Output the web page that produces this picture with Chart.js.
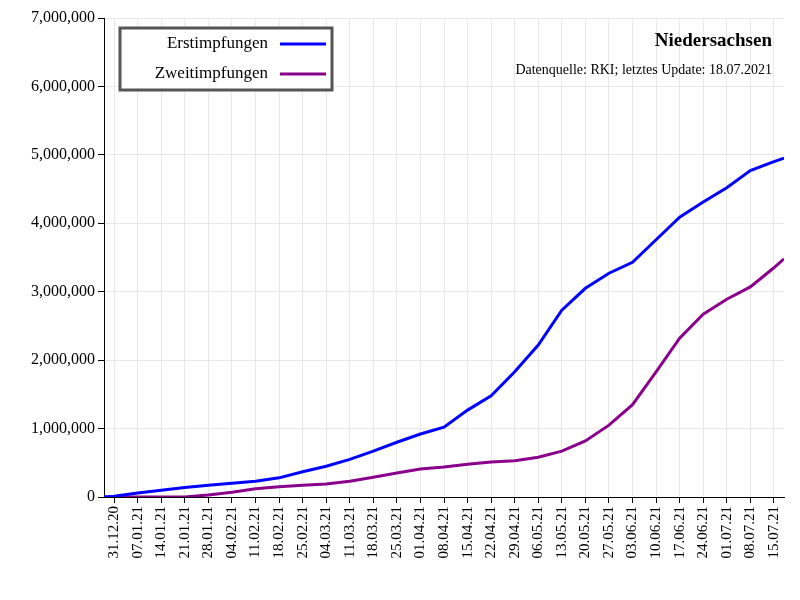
<!DOCTYPE html>
<html><head><meta charset="utf-8">
<script src="https://cdn.jsdelivr.net/npm/chart.js@4"></script>
<style>body{margin:0;background:#fff}</style>
</head><body><canvas id="c" width="800" height="600"></canvas>
<script>
// day index 0 = 28.12.2020
const days = [0,3,10,17,24,31,38,45,52,59,66,73,80,87,94,101,108,115,122,129,136,143,150,157,164,171,178,185,192,199,202];
const erst = [0,0.01,0.06,0.10,0.14,0.17,0.20,0.23,0.28,0.37,0.45,0.55,0.67,0.80,0.92,1.02,1.27,1.48,1.83,2.22,2.73,3.05,3.27,3.43,3.76,4.09,4.31,4.52,4.77,4.90,4.95];
const zweit = [0,0,0,0,0,0.03,0.07,0.12,0.15,0.17,0.19,0.23,0.29,0.35,0.41,0.44,0.48,0.51,0.53,0.58,0.67,0.82,1.05,1.35,1.83,2.32,2.67,2.89,3.07,3.35,3.48];
const tickDays = [3,10,17,24,31,38,45,52,59,66,73,80,87,94,101,108,115,122,129,136,143,150,157,164,171,178,185,192,199];
const tickLabels = ["31.12.20","07.01.21","14.01.21","21.01.21","28.01.21","04.02.21","11.02.21","18.02.21","25.02.21","04.03.21","11.03.21","18.03.21","25.03.21","01.04.21","08.04.21","15.04.21","22.04.21","29.04.21","06.05.21","13.05.21","20.05.21","27.05.21","03.06.21","10.06.21","17.06.21","24.06.21","01.07.21","08.07.21","15.07.21"];

const font = "Liberation Serif";
const pts = arr => arr.map((v, i) => ({x: days[i], y: v * 1000000}));

const overlay = {
  id: "overlay",
  afterDraw(chart) {
    const ctx = chart.ctx;
    ctx.save();
    ctx.fillStyle = "#fff";
    ctx.fillRect(120, 28, 212, 62);
    ctx.strokeStyle = "#555";
    ctx.lineWidth = 3;
    ctx.strokeRect(120, 28, 212, 62);
    ctx.font = "17px '" + font + "'";
    ctx.fillStyle = "#000";
    ctx.textAlign = "right";
    ctx.textBaseline = "middle";
    ctx.fillText("Erstimpfungen", 268, 44);
    ctx.fillText("Zweitimpfungen", 268, 74);
    ctx.lineWidth = 3;
    ctx.strokeStyle = "#0000ff";
    ctx.beginPath(); ctx.moveTo(280, 44); ctx.lineTo(326, 44); ctx.stroke();
    ctx.strokeStyle = "#8b008b";
    ctx.beginPath(); ctx.moveTo(280, 74); ctx.lineTo(326, 74); ctx.stroke();
    ctx.font = "bold 19px '" + font + "'";
    ctx.fillText("Niedersachsen", 772, 41);
    ctx.font = "14px '" + font + "'";
    ctx.fillText("Datenquelle: RKI; letztes Update: 18.07.2021", 772, 70);
    ctx.restore();
  }
};

new Chart(document.getElementById("c"), {
  type: "line",
  data: {
    datasets: [
      {label: "Erstimpfungen", data: pts(erst), borderColor: "#0000ff", borderWidth: 3, pointRadius: 0, tension: 0},
      {label: "Zweitimpfungen", data: pts(zweit), borderColor: "#8b008b", borderWidth: 3, pointRadius: 0, tension: 0}
    ]
  },
  options: {
    responsive: false,
    animation: false,
    devicePixelRatio: 1,
    layout: {padding: {top: 18, right: 16, left: 0, bottom: 0}},
    plugins: {legend: {display: false}, tooltip: {enabled: false}},
    scales: {
      x: {
        type: "linear", min: 0, max: 202,
        afterBuildTicks: s => { s.ticks = tickDays.map(v => ({value: v})); },
        afterFit: s => { s.height = 103; },
        grid: {color: "#e8e8e8", tickColor: "#000", tickLength: 6},
        border: {color: "#000"},
        ticks: {
          maxRotation: 90, minRotation: 90, autoSkip: false, color: "#000",
          font: {family: font, size: 15},
          callback: (v) => tickLabels[tickDays.indexOf(v)] || ""
        }
      },
      y: {
        min: 0, max: 7000000,
        afterFit: s => { s.width = 104; },
        grid: {color: "#e8e8e8", tickColor: "#000", tickLength: 6},
        border: {color: "#000"},
        ticks: {stepSize: 1000000, color: "#000", font: {family: font, size: 16}}
      }
    }
  },
  plugins: [overlay]
});
</script>
</body></html>
